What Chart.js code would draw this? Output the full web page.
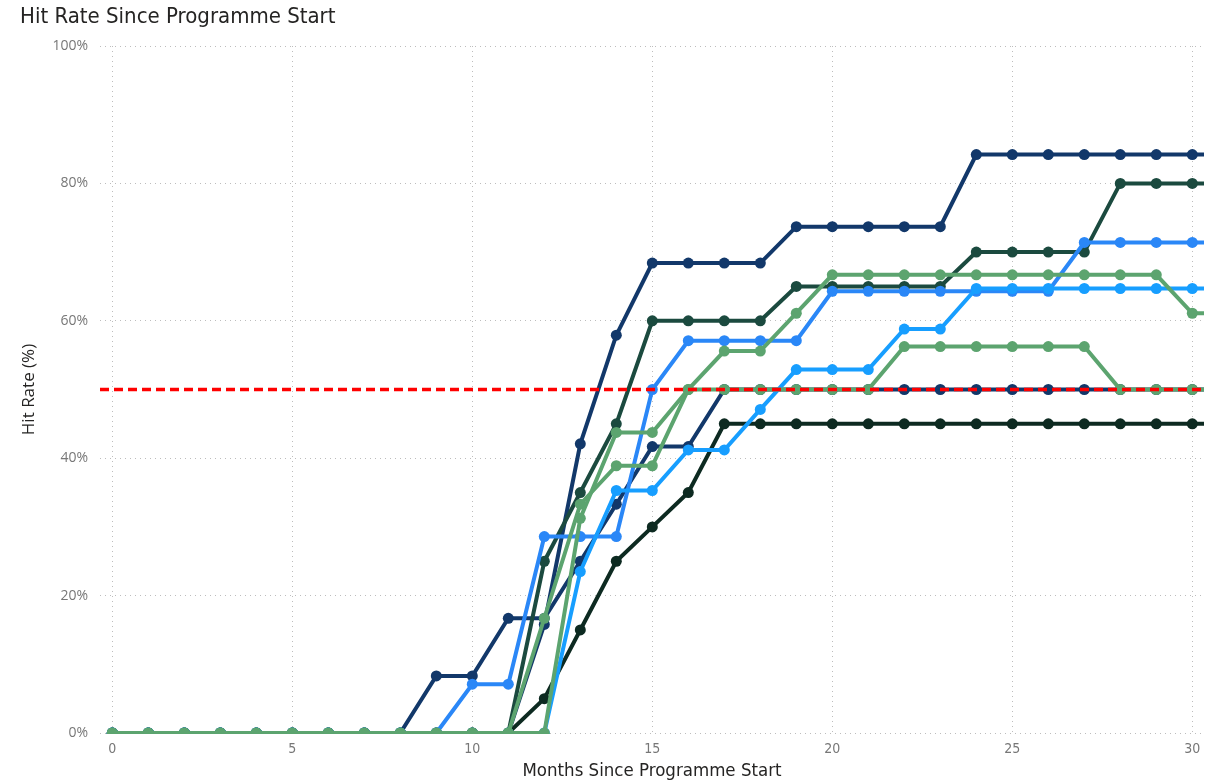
<!DOCTYPE html>
<html>
<head>
<meta charset="utf-8">
<title>Hit Rate Since Programme Start</title>
<script src="https://cdn.jsdelivr.net/npm/chart.js@4.4.1/dist/chart.umd.min.js"></script>
<style>
  html, body { margin: 0; padding: 0; background: #ffffff; }
  #wrap { position: relative; width: 1215px; height: 782px; }
  #title {
    position: absolute; left: 20px; top: 3px;
    font-family: 'DejaVu Sans Condensed', 'Liberation Sans Narrow', Roboto, sans-serif;
    font-size: 22px; color: #252423; white-space: nowrap;
  }
</style>
</head>
<body>
<div id="wrap">
  <div id="title">Hit Rate Since Programme Start</div>
  <canvas id="hitChart" width="1215" height="782"></canvas>
</div>
<script>
// months 0..31 (31 only shows as the stub past the right edge)
const months = [0,1,2,3,4,5,6,7,8,9,10,11,12,13,14,15,16,17,18,19,20,21,22,23,24,25,26,27,28,29,30,31];

// hit rate (%) per series
const navyA  = [0,0,0,0,0,0,0,0,0,0,0,0,15.8,42.1,57.9,68.4,68.4,68.4,68.4,73.7,73.7,73.7,73.7,73.7,84.2,84.2,84.2,84.2,84.2,84.2,84.2,84.2];
const navyB  = [0,0,0,0,0,0,0,0,0,8.3,8.3,16.7,16.7,25,33.3,41.7,41.7,50,50,50,50,50,50,50,50,50,50,50,50,50,50,50];
const darkGreen = [0,0,0,0,0,0,0,0,0,0,0,0,25,35,45,60,60,60,60,65,65,65,65,65,70,70,70,70,80,80,80,80];
const deepGreen = [0,0,0,0,0,0,0,0,0,0,0,0,5,15,25,30,35,45,45,45,45,45,45,45,45,45,45,45,45,45,45,45];
const blueA  = [0,0,0,0,0,0,0,0,0,0,7.1,7.1,28.6,28.6,28.6,50,57.1,57.1,57.1,57.1,64.3,64.3,64.3,64.3,64.3,64.3,64.3,71.4,71.4,71.4,71.4,71.4];
const blueB  = [0,0,0,0,0,0,0,0,0,0,0,0,0,23.5,35.3,35.3,41.2,41.2,47.1,52.9,52.9,52.9,58.8,58.8,64.7,64.7,64.7,64.7,64.7,64.7,64.7,64.7];
const greenA = [0,0,0,0,0,0,0,0,0,0,0,0,16.7,33.3,38.9,38.9,50,55.6,55.6,61.1,66.7,66.7,66.7,66.7,66.7,66.7,66.7,66.7,66.7,66.7,61.1,61.1];
const greenB = [0,0,0,0,0,0,0,0,0,0,0,0,0,31.25,43.75,43.75,50,50,50,50,50,50,56.25,56.25,56.25,56.25,56.25,56.25,50,50,50,50];

const targetRate = 50;
const yTicks = [0, 20, 40, 60, 80, 100];

// first in list is drawn on top
const seriesList = [
  { values: greenB,    color: '#5ca46f' },
  { values: greenA,    color: '#5ca46f' },
  { values: blueB,     color: '#179eff' },
  { values: blueA,     color: '#2a87f7' },
  { values: deepGreen, color: '#0d2a21' },
  { values: darkGreen, color: '#1b4a3f' },
  { values: navyB,     color: '#12386a' },
  { values: navyA,     color: '#12386a' }
];

const condensed = "'DejaVu Sans Condensed', 'Liberation Sans Narrow', Roboto, sans-serif";

// red dashed target line across the plot
const targetLine = {
  id: 'targetLine',
  afterDatasetsDraw(chart) {
    const { ctx, chartArea, scales } = chart;
    const y = scales.y.getPixelForValue(targetRate);
    ctx.save();
    ctx.strokeStyle = '#ff0000';
    ctx.lineWidth = 3.5;
    ctx.setLineDash([9, 5]);
    ctx.beginPath();
    ctx.moveTo(chartArea.left, y);
    ctx.lineTo(chartArea.right, y);
    ctx.stroke();
    ctx.restore();
  }
};

const ctx = document.getElementById('hitChart').getContext('2d');
const hitChart = new Chart(ctx, {
  type: 'line',
  data: {
    datasets: seriesList.map(s => ({
      data: months.map((m, i) => ({ x: m, y: s.values[i] })),
      borderColor: s.color,
      backgroundColor: s.color,
      borderWidth: 4,
      pointRadius: 5.5,
      pointHoverRadius: 5.5,
      pointBorderWidth: 0,
      tension: 0,
      clip: { left: 8, top: 8, right: 0, bottom: 1 }
    }))
  },
  options: {
    responsive: false,
    devicePixelRatio: 1,
    animation: false,
    layout: { padding: { top: 46, right: 11, bottom: 0, left: 0 } },
    plugins: {
      legend: { display: false },
      tooltip: { enabled: false }
    },
    scales: {
      x: {
        type: 'linear',
        min: -0.342,
        max: 30.325,
        border: { display: false, dash: [1, 4] },
        grid: { color: '#bdbdbd', lineWidth: 1, drawTicks: false },
        ticks: {
          stepSize: 5,
          includeBounds: false,
          padding: 8,
          color: '#777777',
          font: { family: condensed, size: 14 }
        },
        title: {
          display: true,
          text: 'Months Since Programme Start',
          color: '#252423',
          font: { family: condensed, size: 18.5 },
          padding: { top: 0, bottom: 0 }
        },
        afterFit(scale) { scale.height = 49; }
      },
      y: {
        min: 0,
        max: 100,
        border: { display: false, dash: [1, 4] },
        grid: { color: '#bdbdbd', lineWidth: 1, drawTicks: false },
        afterBuildTicks(scale) { scale.ticks = yTicks.map(v => ({ value: v })); },
        ticks: {
          padding: 12,
          color: '#777777',
          font: { family: "'Open Sans', sans-serif", size: 14 },
          callback: v => v + '%'
        },
        title: {
          display: true,
          text: 'Hit Rate (%)',
          color: '#252423',
          font: { family: "'Open Sans', sans-serif", size: 17 },
          padding: { top: 19, bottom: 0 }
        },
        afterFit(scale) { scale.width = 100; }
      }
    }
  },
  plugins: [targetLine]
});
</script>
</body>
</html>
